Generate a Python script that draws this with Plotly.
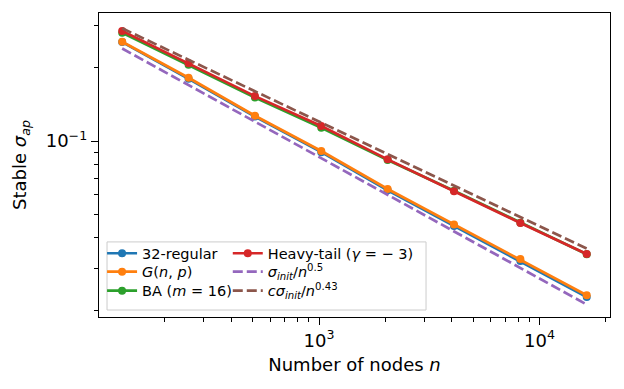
import plotly.graph_objects as go

# ---- data ----
n_nodes = [128, 256, 512, 1024, 2048, 4096, 8192, 16384]
regular32 = [0.2555, 0.1805, 0.1262, 0.0900, 0.0627, 0.0447, 0.0321, 0.0228]
gnp = [0.2562, 0.1822, 0.1271, 0.0910, 0.0635, 0.0454, 0.0327, 0.0232]
ba16 = [0.2790, 0.2060, 0.1510, 0.1135, 0.0836, 0.0625, 0.0461, 0.0342]
heavy_tail = [0.2836, 0.2088, 0.1531, 0.1153, 0.0841, 0.0622, 0.0460, 0.0343]
ref_sqrt = [0.2404, 0.1700, 0.1202, 0.0850, 0.0601, 0.0425, 0.0301, 0.02125]
ref_043 = [0.2910, 0.2160, 0.1603, 0.1190, 0.0884, 0.0656, 0.0487, 0.0361]

x_major = [1000, 10000]
x_major_text = ["10<sup>3</sup>", "10<sup>4</sup>"]
x_minor = [200, 300, 400, 500, 600, 700, 800, 900,
           2000, 3000, 4000, 5000, 6000, 7000, 8000, 9000, 20000]
y_major = [0.1]
y_major_text = ["10<sup>−1</sup>"]
y_minor = [0.02, 0.03, 0.04, 0.05, 0.06, 0.07, 0.08, 0.09, 0.2, 0.3]

FONT = "DejaVu Sans"
LW = 2.7

fig = go.Figure()

solid = [
    ("32-regular", regular32, "#1f77b4", "legend"),
    ("<i>G</i>(<i>n</i>, <i>p</i>)", gnp, "#ff7f0e", "legend2"),
    ("BA (<i>m</i> = 16)", ba16, "#2ca02c", "legend3"),
    ("Heavy-tail (<i>γ</i> = − 3)", heavy_tail, "#d62728", "legend4"),
]
for name, ys, color, lg in solid:
    fig.add_trace(go.Scatter(
        x=n_nodes, y=ys, name=name, mode="lines+markers",
        line=dict(color=color, width=LW),
        marker=dict(color=color, size=8),
        legend=lg, showlegend=True))

dashed = [
    ("<i>σ</i><sub><i>init</i></sub>/<i>n</i><sup>0.5</sup>", ref_sqrt, "#9467bd", "legend5"),
    ("<i>cσ</i><sub><i>init</i></sub>/<i>n</i><sup>0.43</sup>", ref_043, "#8c564b", "legend6"),
]
for name, ys, color, lg in dashed:
    fig.add_trace(go.Scatter(
        x=n_nodes, y=ys, name=name, mode="lines",
        line=dict(color=color, width=LW, dash="10px,4px"),
        legend=lg, showlegend=True))

axis_common = dict(
    type="log", showline=True, linecolor="black", linewidth=1.4, mirror=True,
    ticks="outside", ticklen=7, tickwidth=1.4, tickcolor="black",
    showgrid=False, zeroline=False, automargin=False,
    tickfont=dict(family=FONT, size=18, color="black"),
)

legend_common = dict(
    xanchor="left", yanchor="middle",
    bgcolor="rgba(0,0,0,0)", borderwidth=0,
    font=dict(family=FONT, size=14.5, color="black"),
    itemwidth=30, tracegroupgap=0, visible=True,
)
row_y = [0.2095, 0.149, 0.0865]
col_x = [0.006, 0.252]

# the page body adds an 8px offset, so the figure is 8px smaller
fig.update_layout(
    template="none",
    showlegend=True,
    width=616, height=381,
    margin=dict(l=91, r=14, t=5, b=72, autoexpand=False),
    plot_bgcolor="white", paper_bgcolor="white",
    font=dict(family=FONT, color="black"),
    xaxis=dict(
        **axis_common, range=[2.002, 4.320],
        tickmode="array", tickvals=x_major, ticktext=x_major_text,
        minor=dict(tickmode="array", tickvals=x_minor, ticks="outside",
                   ticklen=4, tickwidth=1, tickcolor="black"),
        title=dict(text="Number of nodes <i>n</i>",
                   font=dict(family=FONT, size=18, color="black"), standoff=8),
    ),
    yaxis=dict(
        **axis_common, range=[-1.724, -0.473],
        tickmode="array", tickvals=y_major, ticktext=y_major_text,
        minor=dict(tickmode="array", tickvals=y_minor, ticks="outside",
                   ticklen=4, tickwidth=1, tickcolor="black"),
        title=dict(text="Stable <i>σ</i><sub><i>ap</i></sub>",
                   font=dict(family=FONT, size=18, color="black"), standoff=14),
    ),
    legend=dict(x=col_x[0], y=row_y[0], **legend_common),
    legend2=dict(x=col_x[0], y=row_y[1], **legend_common),
    legend3=dict(x=col_x[0], y=row_y[2], **legend_common),
    legend4=dict(x=col_x[1], y=row_y[0], **legend_common),
    legend5=dict(x=col_x[1], y=row_y[1], **legend_common),
    legend6=dict(x=col_x[1], y=row_y[2], **legend_common),
    shapes=[dict(type="rect", xref="paper", yref="paper",
                 x0=0.0157, x1=0.640, y0=0.023, y1=0.247,
                 line=dict(color="#cccccc", width=1),
                 fillcolor="rgba(255,255,255,0.8)", layer="above")],
)

fig.write_html("out.html")
